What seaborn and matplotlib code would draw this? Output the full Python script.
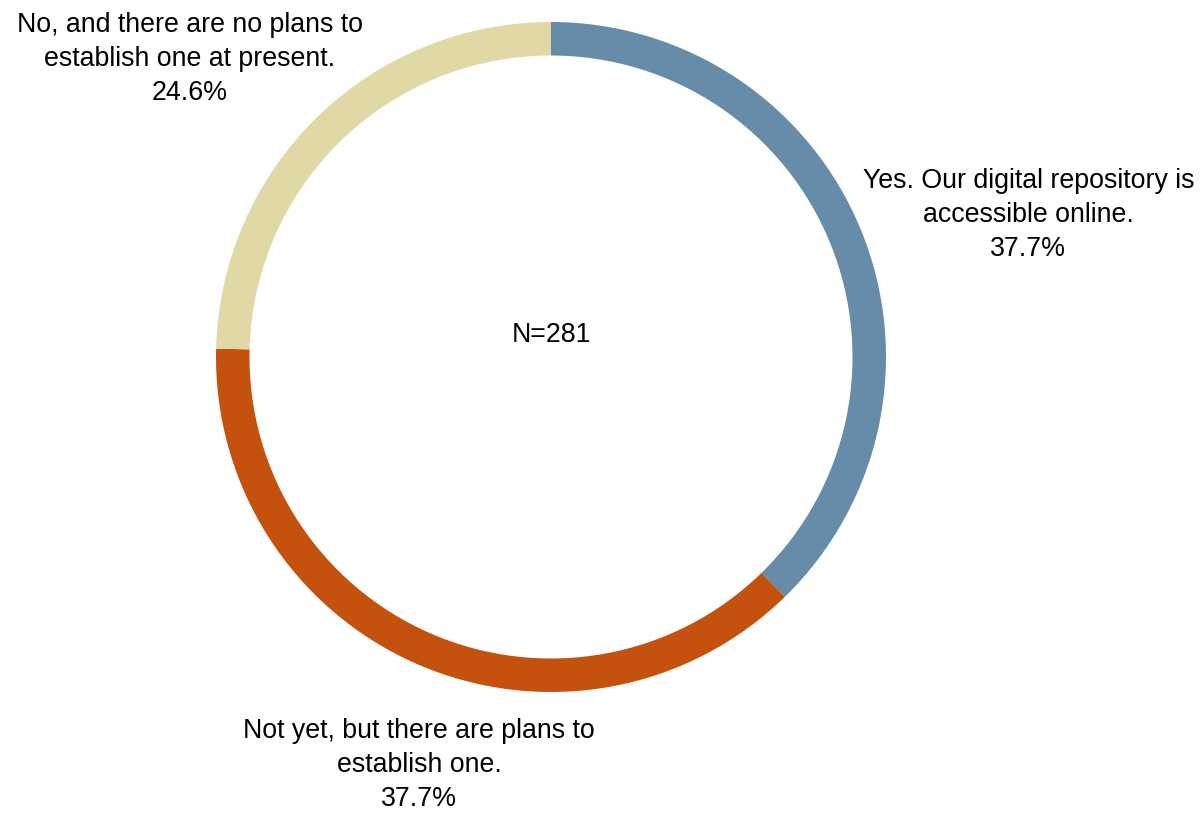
import matplotlib
matplotlib.use("Agg")
import matplotlib.pyplot as plt
import seaborn as sns

sns.set_theme(style="white")
plt.rcParams['font.family'] = ['Liberation Sans', 'DejaVu Sans']

# data
labels = [
    "Yes. Our digital repository is\naccessible online.",
    "Not yet, but there are plans to\nestablish one.",
    "No, and there are no plans to\nestablish one at present.",
]
shares = [37.7, 37.7, 24.6]
n_total = 281
colors = ["#668CAA", "#C4510E", "#E0D9A6"]

# label anchor points (data units, pie radius = 1)
label_pos = [(1.425, 0.425), (-0.394, -1.218), (-1.078, 0.89)]

fig = plt.figure(figsize=(12.04, 8.13), dpi=100)
ax = fig.add_axes([0, 0, 1, 1])

ax.pie(
    shares,
    colors=colors,
    startangle=90,
    counterclock=False,
    radius=1,
    wedgeprops=dict(width=0.1, edgecolor="none"),
)

for lab, val, (x, y) in zip(labels, shares, label_pos):
    ax.text(x, y, f"{lab}\n{val}%", ha="center", va="center",
            fontsize=19.3, color="black", linespacing=1.4)

ax.text(0, 0.066, f"N={n_total}", ha="center", va="center",
        fontsize=19.3, color="black")

# map pie centre to (551, 357) px, radius 335 px
r = 335
ax.set_xlim(-551 / r, (1204 - 551) / r)
ax.set_ylim(-(813 - 357) / r, 357 / r)
ax.set_aspect("auto")
ax.axis("off")

fig.savefig("out.png", dpi=100)
